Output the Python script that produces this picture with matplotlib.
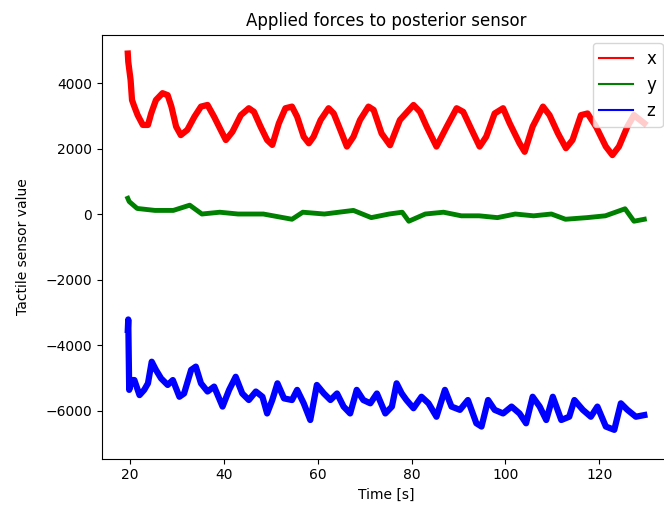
import numpy as np
import matplotlib
matplotlib.use('Agg')
import matplotlib.pyplot as plt

# values (time in s, sensor value)
t_x = [19.5, 19.6, 20.1, 20.4, 20.9, 21.6, 22.7, 23.8, 24.5, 25.5, 26.9, 28.0, 28.8,
       29.8, 30.8, 32.2, 33.7, 35.1, 36.5, 37.9, 39.3, 40.4, 41.8, 43.6, 45.3, 46.4,
       47.8, 49.2, 50.3, 51.7, 53.1, 54.5, 55.6, 57.0, 58.1, 59.1, 60.6, 62.3, 63.4,
       64.8, 66.2, 67.6, 69.0, 70.8, 71.9, 73.6, 75.4, 77.5, 80.4, 81.8, 83.2, 85.3,
       87.5, 89.6, 91.0, 92.8, 94.5, 95.9, 97.7, 99.5, 100.9, 103.0, 104.1, 105.8,
       108.0, 109.4, 111.2, 112.9, 114.3, 116.1, 117.5, 119.3, 121.4, 122.8, 124.2,
       126.0, 127.4, 129.6]
x_vals = [4900, 4650, 4090, 3480, 3280, 3020, 2720, 2720, 3080, 3480, 3690, 3630, 3280,
          2670, 2410, 2570, 2970, 3280, 3330, 2970, 2570, 2260, 2510, 3020, 3230, 3120,
          2670, 2260, 2110, 2770, 3230, 3280, 2970, 2360, 2160, 2360, 2870, 3230, 3070,
          2570, 2060, 2360, 2870, 3280, 3180, 2460, 2100, 2870, 3330, 3120, 2670, 2060,
          2670, 3230, 3120, 2570, 2060, 2360, 3070, 3230, 2770, 2160, 1900, 2670,
          3280, 3020, 2460, 2010, 2260, 3020, 3070, 2670, 2060, 1800, 2060,
          2670, 3020, 2770]

t_y = [19.5, 19.8, 21.5, 25.3, 29.2, 32.7, 35.3, 39.1, 43.0, 48.4, 54.5, 56.8, 61.4,
       67.6, 71.4, 75.2, 78.0, 79.4, 82.9, 86.8, 90.6, 94.4, 98.3, 102.1, 106.0,
       109.8, 112.8, 117.4, 121.3, 125.5, 127.4, 129.6]
y_vals = [480, 380, 170, 110, 110, 270, 0, 55, 0, 0, -160, 55, 0,
          110, -110, 0, 55, -220, 0, 55, -55, -55, -110, 0, -55,
          0, -160, -110, -55, 160, -220, -160]

t_z = [19.5, 19.6, 19.8, 20.3, 20.9, 22.0, 23.0, 23.8, 24.6, 25.5, 26.6, 28.0, 29.1,
       30.5, 31.5, 33.0, 34.0, 35.1, 36.5, 37.9, 39.7, 41.1, 42.5, 43.9, 45.3, 46.8,
       48.2, 49.2, 50.3, 51.4, 52.8, 54.5, 55.6, 57.0, 58.4, 59.8, 61.3, 62.7, 64.1,
       65.5, 66.9, 68.3, 69.7, 71.2, 72.6, 74.4, 75.8, 76.8, 77.9, 78.9, 80.4, 82.1,
       83.6, 85.3, 87.1, 88.5, 90.3, 92.0, 93.8, 94.9, 96.3, 97.7, 99.5, 101.3, 103.0,
       104.4, 105.8, 107.3, 108.7, 110.1, 111.9, 113.6, 114.7, 116.5, 118.2, 119.6,
       121.4, 123.2, 124.6, 126.0, 127.8, 129.6]
z_vals = [-3540, -3220, -5370, -5070, -5070, -5530, -5370, -5170, -4510, -4760, -5020,
          -5220, -5070, -5580, -5480, -4760, -4660, -5170, -5420, -5270, -5880, -5370,
          -4970, -5480, -5680, -5420, -5580, -6090, -5680, -5170, -5630, -5680, -5370,
          -5780, -6290, -5220, -5480, -5680, -5480, -5880, -6090, -5370, -5680, -5780,
          -5480, -6090, -5880, -5170, -5480, -5680, -5930, -5580, -5780, -6190, -5370,
          -5880, -5980, -5680, -6390, -6490, -5680, -5980, -6090, -5880, -6090, -6390,
          -5580, -5880, -6290, -5580, -6290, -6190, -5680, -5980, -6190, -5880, -6490,
          -6590, -5780, -5980, -6190, -6140]

fig = plt.figure(figsize=(6.64, 5.13), dpi=100)
ax = fig.add_axes([0.1536, 0.1062, 0.857, 0.8265])

ax.plot(t_x, x_vals, color='red', lw=4.5, solid_joinstyle='round', label='x')
ax.plot(t_y, y_vals, color='green', lw=3.5, solid_joinstyle='round', label='y')
ax.plot(t_z, z_vals, color='blue', lw=4.5, solid_joinstyle='round', label='z')

ax.set_xlim(14.0, 135.3)
ax.set_ylim(-7466, 5481)
ax.set_xticks([20, 40, 60, 80, 100, 120])
ax.set_yticks([-6000, -4000, -2000, 0, 2000, 4000])
ax.set_title('Applied forces to posterior sensor')
ax.set_xlabel('Time [s]')
ax.set_ylabel('Tactile sensor value', labelpad=11)
leg = ax.legend(loc='upper right', fontsize=12)
for h in leg.get_lines():
    h.set_linewidth(1.5)

fig.savefig('out.png', dpi=100)
